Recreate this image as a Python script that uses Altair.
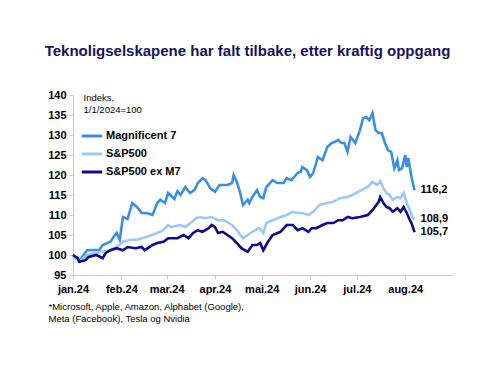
import altair as alt
import pandas as pd

# Day offsets since 1 Jan 2024 and index values
m7_days = [0, 4, 9, 17, 19, 24, 26, 28, 30, 32, 35, 38, 41, 44, 47, 51, 54, 56, 59, 61,
           65, 67, 69, 72, 75, 78, 80, 83, 85, 88, 91, 94, 99, 102, 103, 105, 107, 109, 112, 113,
           115, 118, 120, 122, 124, 128, 131, 135, 137, 140, 144, 146, 147, 150, 152, 154, 157, 160, 163, 166,
           168, 170, 172, 174, 176, 178, 181, 184, 186, 188, 190, 192, 194, 196, 198, 200, 202, 204, 206, 208,
           209, 211, 213, 214, 215, 217, 219]
m7_vals = [100, 98.5, 101.2, 101.3, 102.5, 103.3, 104.5, 105.5, 103.8, 109.5, 109, 113, 112, 110.5, 110.5, 110, 113, 113.8, 113, 115.5,
           114, 116, 115, 117, 115.5, 116.3, 118, 119.2, 118.7, 116.7, 115.8, 117.5, 117.5, 118, 120, 118.3, 115.8, 112.5, 113.8, 113,
           114.5, 116.2, 114.5, 114.2, 117, 118.7, 118, 118, 119.2, 118.7, 120.5, 120.8, 122, 121.2, 119.5, 120.5, 124.5, 123.7, 127, 128,
           128.3, 128.8, 128, 128, 125.8, 129.5, 128, 131.2, 134.2, 134.5, 133.7, 135.5, 131.2, 130.5, 130.5, 128, 126.2, 125.8, 121.7, 123.7,
           121.2, 121.7, 125, 122, 124.2, 119.5, 116.2]

sp_days = [0, 4, 9, 14, 24, 28, 32, 37, 41, 47, 54, 58, 61, 63, 69, 72, 76, 79, 81, 85,
           89, 93, 97, 102, 105, 109, 112, 115, 119, 120, 122, 124, 128, 133, 137, 141, 144, 147, 151, 154,
           158, 163, 167, 171, 176, 179, 185, 189, 192, 195, 197, 199, 201, 203, 205, 208, 210, 212, 214, 216,
           218, 219]
sp_vals = [100, 98.3, 100, 100.5, 101.2, 102, 103.3, 103.8, 103.8, 104.5, 105.5, 106.2, 107.5, 107, 107.5, 107, 108.2, 109.2, 109.5, 109.2,
           109.5, 108.7, 108.7, 107.5, 106.2, 104.2, 105, 105.8, 106.7, 106.5, 105.5, 108, 108.7, 109.5, 110, 110.8, 110.5, 110.5, 110, 110.8,
           112.5, 113, 113.3, 114.2, 114.5, 115, 116.2, 117, 118.3, 117.5, 118.5, 116.7, 115.5, 115, 113.8, 114.5, 114.2, 115.5, 113, 111.2,
           109.2, 108.9]

ex_days = [0, 3, 4, 8, 10, 15, 19, 21, 24, 28, 32, 35, 40, 44, 46, 51, 54, 58, 61, 63,
           67, 71, 74, 77, 80, 83, 87, 89, 91, 93, 96, 99, 102, 105, 108, 112, 115, 118, 120, 122,
           125, 128, 133, 137, 141, 144, 147, 151, 153, 156, 160, 163, 167, 170, 173, 176, 179, 184, 189, 192,
           196, 197, 199, 201, 203, 205, 208, 210, 212, 214, 216, 217, 219]
ex_vals = [100, 99.2, 98.3, 98.7, 99.5, 100, 99.2, 100.5, 101.2, 101.7, 101.2, 102, 101.7, 102, 101.2, 102.5, 103, 103.3, 104.2, 104.2,
           104.2, 105, 104.2, 105.5, 106.2, 105.8, 106.7, 107.5, 107, 105.5, 105.8, 105, 104.2, 103, 101.7, 100.8, 102.5, 102.5, 103, 101.2,
           103.3, 105, 105.8, 107.5, 107.5, 106.2, 106.7, 105.8, 106.7, 106.7, 107.5, 108, 108, 108.7, 108.7, 109.5, 109.2, 109.5, 110, 111.2,
           113.3, 114.5, 113, 112, 111.7, 110.8, 111.7, 110.8, 112, 110.5, 108.7, 108, 105.7]

series_names = ["Magnificent 7", "S&P500", "S&P500 ex M7"]
series_colors = ["#3a8fe3", "#9dc8f4", "#0c0c8c"]
end_labels = ["116,2", "108,9", "105,7"]
end_dy = [1, 0, 3]

month_names = ["jan", "feb", "mar", "apr", "mai", "jun", "jul", "aug", "sep", "okt", "nov", "des"]
y_ticks = [95, 100, 105, 110, 115, 120, 125, 130, 135, 140]

start = pd.Timestamp("2024-01-01")
frames = []
for name, days, vals in zip(series_names, [m7_days, sp_days, ex_days], [m7_vals, sp_vals, ex_vals]):
    frames.append(pd.DataFrame({
        "date": [(start + pd.Timedelta(days=d)).strftime("%Y-%m-%d") for d in days],
        "value": vals,
        "series": name,
    }))
df = pd.concat(frames, ignore_index=True)

last = df.groupby("series", sort=False).tail(1).copy()
last["label"] = end_labels
last["dy"] = end_dy

font = "Liberation Sans"
xscale = alt.Scale(type="utc",
                   domain=[alt.DateTime(year=2024, month=1, date=1, utc=True),
                           alt.DateTime(year=2024, month=8, date=31, utc=True)])
yscale = alt.Scale(domain=[95, 140], nice=False, zero=False)
month_ticks = [alt.DateTime(year=2024, month=m, date=1, utc=True) for m in range(1, 9)]
label_expr = "[" + ",".join("'%s'" % m for m in month_names) + "][utcmonth(datum.value)] + '.24'"

x_axis = alt.Axis(values=month_ticks, labelExpr=label_expr,
                  title=["*Microsoft, Apple, Amazon, Alphabet (Google),",
                         "Meta (Facebook), Tesla og Nvidia"],
                  titleAnchor="start", titleAlign="left", titleBaseline="top",
                  titleX=-25, titleY=26, titleFontSize=9.5, titleFontWeight="normal",
                  titleLineHeight=12, titleColor="#000000",
                  labelFontSize=11, labelFontWeight="bold", labelColor="#000000",
                  tickSize=4, labelPadding=4, domainColor="#c8c8c8", tickColor="#c8c8c8",
                  grid=False, labelFlush=False, labelOverlap=False)
y_axis = alt.Axis(values=y_ticks, tickCount=10,
                  title=["Indeks,", "1/1/2024=100"], titleAngle=0,
                  titleAlign="left", titleBaseline="top", titleX=10, titleY=-3,
                  titleFontSize=9.5, titleFontWeight="normal", titleLineHeight=12.5,
                  titleColor="#000000",
                  labelFontSize=11, labelFontWeight="bold", labelColor="#000000",
                  tickSize=4, labelPadding=3, domainColor="#c8c8c8", tickColor="#c8c8c8",
                  grid=False, labelOverlap=False, labelFlush=False)

lines = alt.Chart(df).mark_line(strokeWidth=2.6).encode(
    x=alt.X("date:T", scale=xscale, axis=x_axis),
    y=alt.Y("value:Q", scale=yscale, axis=y_axis),
    color=alt.Color("series:N",
                    scale=alt.Scale(domain=series_names, range=series_colors),
                    legend=alt.Legend(title=None, orient="none", legendX=7, legendY=29,
                                      symbolType="stroke", symbolSize=420, symbolStrokeWidth=3,
                                      labelFontSize=11, labelFontWeight="bold", labelColor="#000000",
                                      labelOffset=2, rowPadding=0)),
)

labels = alt.Chart(last).mark_text(align="left", baseline="middle", dx=6,
                                   fontSize=11, fontWeight="bold", color="#000000", font=font).encode(
    x=alt.X("date:T", scale=xscale, axis=x_axis),
    y=alt.Y("value:Q", scale=yscale, axis=y_axis),
    text="label:N",
    yOffset="dy:Q",
)

chart = alt.layer(lines, labels).properties(
    width=379, height=180,
    autosize=alt.AutoSizeParams(type="none"),
    padding={"left": 65, "top": 87, "right": 40, "bottom": 83},
    title=alt.TitleParams("Teknoligselskapene har falt tilbake, etter kraftig oppgang",
                          anchor="middle", frame="group", dx=-15, offset=30,
                          fontSize=15, fontWeight="bold", color="#14145f", font=font),
).configure(font=font).configure_view(stroke=None).configure_axis(labelOverlap=False)

chart.save("out.html", embed_options={"renderer": "svg", "actions": False})
